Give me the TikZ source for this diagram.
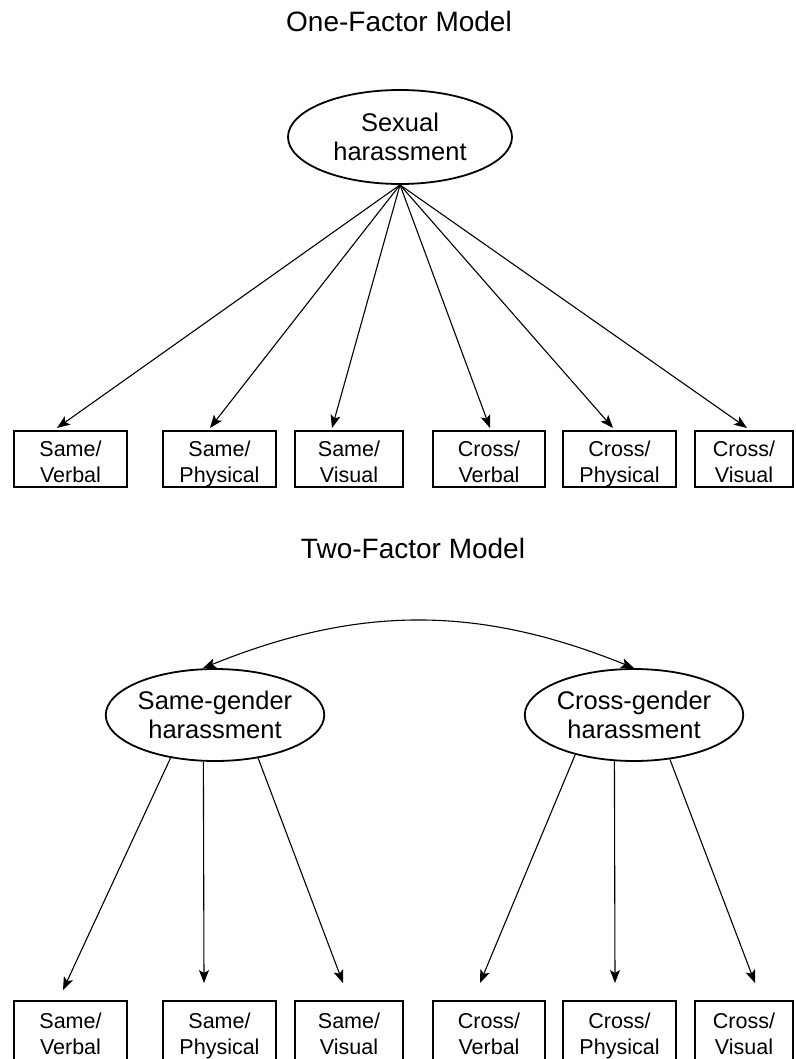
\documentclass[tikz,border=0pt]{standalone}
\usepackage{fontspec}
\setmainfont{Liberation Sans}
\usetikzlibrary{shapes.geometric,arrows.meta}
% two lines of a measure box, sitting low as in the print
\newcommand{\twoline}[2]{\rule{0pt}{25pt}#1\\#2\rule[-5pt]{0pt}{5pt}}

\begin{document}
\begin{tikzpicture}[x=1pt,y=-1pt,
    >={Stealth[length=13pt,width=10pt,inset=3pt]},
    heading/.style={anchor=base, inner sep=0pt, font=\fontsize{28}{32}\selectfont},
    factor/.style={ellipse, draw, line width=1.8pt, minimum width=218pt, minimum height=92pt,
        inner sep=0pt, align=center, font=\fontsize{25.5}{28.5}\selectfont},
    item/.style={rectangle, draw, line width=2pt, minimum width=112pt, minimum height=54pt,
        inner sep=0pt, align=center, font=\fontsize{21.5}{26}\selectfont},
    load/.style={->, line width=1.1pt}]
\useasboundingbox (0,0) rectangle (795,1059);

% one factor
\node[heading] (title1) at (399,32) {One-Factor Model};
\node[factor, minimum width=224pt, minimum height=94pt] (sexual) at (400,137) {Sexual\\harassment};

\node[item, minimum width=113pt] (sv1) at (70.5,459) {\twoline{Same/}{Verbal}};
\node[item, minimum width=113pt] (sp1) at (219.5,459) {\twoline{Same/}{Physical}};
\node[item, minimum width=108pt] (svi1) at (349,459) {\twoline{Same/}{Visual}};
\node[item] (cv1) at (489,459) {\twoline{Cross/}{Verbal}};
\node[item, minimum width=113pt] (cp1) at (619.5,459) {\twoline{Cross/}{Physical}};
\node[item, minimum width=98pt] (cvi1) at (744,459) {\twoline{Cross/}{Visual}};

\draw[load] (sexual.south) -- ([xshift=-13.5pt,yshift=2pt]sv1.north);
\draw[load] (sexual.south) -- ([xshift=-9.5pt,yshift=2pt]sp1.north);
\draw[load] (sexual.south) -- ([xshift=-17pt,yshift=2pt]svi1.north);
\draw[load] (sexual.south) -- ([xshift=1pt,yshift=2pt]cv1.north);
\draw[load] (sexual.south) -- ([xshift=-6.5pt,yshift=2pt]cp1.north);
\draw[load] (sexual.south) -- ([xshift=3pt,yshift=2pt]cvi1.north);

% two factors
\node[heading] (title2) at (413,558) {Two-Factor Model};
\node[factor] (same) at (215,715) {Same-gender\\harassment};
\node[factor] (cross) at (634,715) {Cross-gender\\harassment};

\draw[load, <->] ([xshift=-12pt]same.north) to[bend left=22] (cross.north);

\node[item, minimum width=113pt, minimum height=60pt] (sv2) at (70.5,1031) {\twoline{Same/}{Verbal}};
\node[item, minimum width=113pt, minimum height=60pt] (sp2) at (219.5,1031) {\twoline{Same/}{Physical}};
\node[item, minimum width=108pt, minimum height=60pt] (svi2) at (349,1031) {\twoline{Same/}{Visual}};
\node[item, minimum height=60pt] (cv2) at (489,1031) {\twoline{Cross/}{Verbal}};
\node[item, minimum width=113pt, minimum height=60pt] (cp2) at (619.5,1031) {\twoline{Cross/}{Physical}};
\node[item, minimum width=98pt, minimum height=60pt] (cvi2) at (744,1031) {\twoline{Cross/}{Visual}};

\draw[load] (same.224.5) -- ([xshift=-7.5pt,yshift=10pt]sv2.north);
\draw[load] (same.256.5) -- ([xshift=-15.5pt,yshift=17pt]sp2.north);
\draw[load] (same.315.5) -- ([xshift=-6pt,yshift=17pt]svi2.north);
\draw[load] (cross.214.5) -- ([xshift=-9pt,yshift=17pt]cv2.north);
\draw[load] (cross.247.2) -- ([xshift=-4.5pt,yshift=17pt]cp2.north);
\draw[load] (cross.309.7) -- ([xshift=11pt,yshift=17pt]cvi2.north);
\end{tikzpicture}
\end{document}
